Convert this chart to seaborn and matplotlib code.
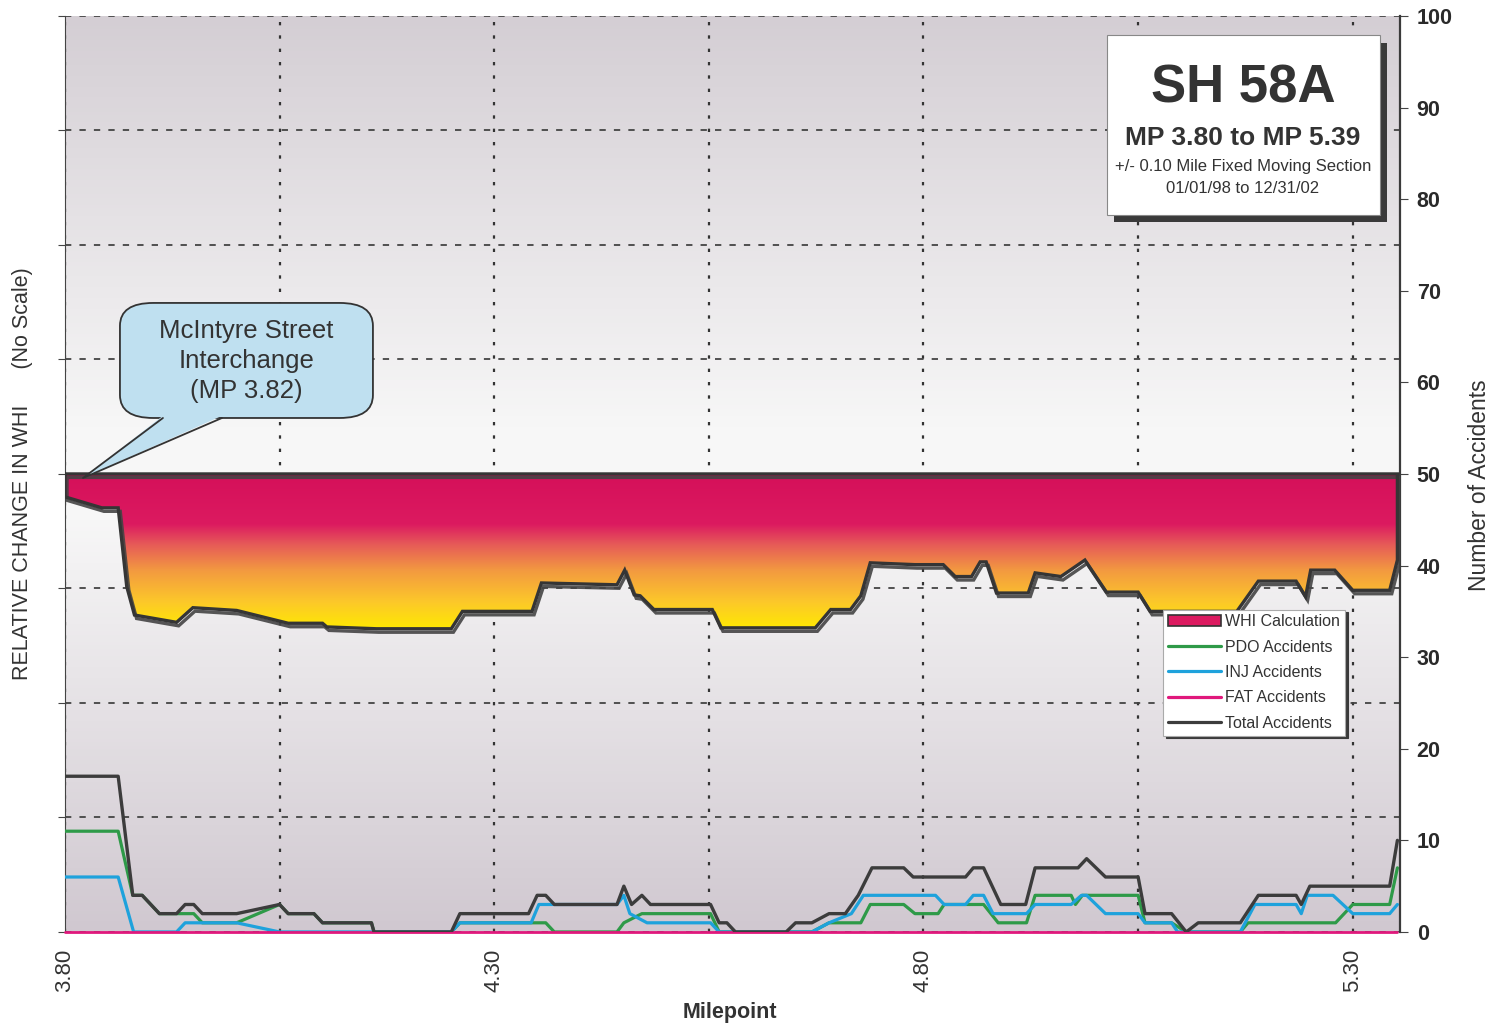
import numpy as np
import matplotlib
matplotlib.use("Agg")
import matplotlib.pyplot as plt
import matplotlib.patheffects as pe
from matplotlib.colors import LinearSegmentedColormap
from matplotlib.patches import Rectangle, FancyBboxPatch, Polygon, Patch
from matplotlib.lines import Line2D
import seaborn as sns

# Milepoint breakpoints and values
whi_mp = [3.80, 3.843, 3.862, 3.872, 3.881, 3.93, 3.949, 4.00, 4.06, 4.10,
          4.105, 4.163, 4.25, 4.263, 4.344, 4.355, 4.443, 4.452, 4.463, 4.47,
          4.486, 4.554, 4.564, 4.674, 4.692, 4.715, 4.727, 4.738, 4.79, 4.823,
          4.837, 4.856, 4.866, 4.873, 4.885, 4.922, 4.93, 4.96, 4.988, 5.013,
          5.05, 5.064, 5.165, 5.19, 5.234, 5.245, 5.251, 5.279, 5.30, 5.343, 5.352]
whi = [47.5, 46.3, 46.3, 37.7, 34.6, 33.8, 35.4, 35.1, 33.7, 33.7,
       33.3, 33.1, 33.1, 35.0, 35.0, 38.1, 37.9, 39.5, 36.8, 36.7,
       35.2, 35.2, 33.2, 33.2, 35.2, 35.2, 36.7, 40.3, 40.1, 40.1,
       38.8, 38.8, 40.4, 40.4, 37.0, 37.0, 39.2, 38.8, 40.6, 37.1,
       37.1, 35.0, 35.0, 38.3, 38.3, 36.6, 39.5, 39.5, 37.3, 37.3, 40.6]
whi_base = 50

pdo_mp = [3.80, 3.862, 3.879, 3.89, 3.91, 3.94, 3.95, 3.96, 4.00, 4.05,
          4.06, 4.09, 4.10, 4.157, 4.16, 4.25, 4.26, 4.34, 4.35, 4.36,
          4.37, 4.443, 4.451, 4.472, 4.552, 4.562, 4.67, 4.69, 4.727, 4.738,
          4.777, 4.79, 4.817, 4.824, 4.87, 4.887, 4.92, 4.93, 4.972, 4.977,
          4.985, 5.05, 5.058, 5.089, 5.106, 5.169, 5.178, 5.28, 5.30, 5.343, 5.352]
pdo = [11, 11, 4, 4, 2, 2, 2, 1, 1, 3,
       2, 2, 1, 1, 0, 0, 1, 1, 1, 1,
       0, 0, 1, 2, 2, 0, 0, 1, 1, 3,
       3, 2, 2, 3, 3, 1, 1, 4, 4, 3,
       4, 4, 1, 1, 0, 0, 1, 1, 3, 3, 7]

inj_mp = [3.80, 3.862, 3.88, 3.93, 3.94, 4.00, 4.05, 4.25, 4.26, 4.343,
          4.352, 4.37, 4.443, 4.451, 4.458, 4.478, 4.552, 4.562, 4.67, 4.69,
          4.716, 4.73, 4.814, 4.824, 4.849, 4.858, 4.87, 4.881, 4.92, 4.93,
          4.972, 4.984, 4.99, 5.012, 5.05, 5.058, 5.089, 5.096, 5.169, 5.186,
          5.234, 5.24, 5.247, 5.277, 5.30, 5.343, 5.352]
inj = [6, 6, 0, 0, 1, 1, 0, 0, 1, 1,
       3, 3, 3, 4, 2, 1, 1, 0, 0, 1,
       2, 4, 4, 3, 3, 4, 4, 2, 2, 3,
       3, 4, 4, 2, 2, 1, 1, 0, 0, 3,
       3, 2, 4, 4, 2, 2, 3]

fat_mp = [3.80, 5.352]
fat = [0, 0]

tot_mp = [3.80, 3.862, 3.879, 3.89, 3.91, 3.93, 3.94, 3.95, 3.96, 4.00,
          4.05, 4.06, 4.09, 4.10, 4.157, 4.16, 4.25, 4.26, 4.34, 4.35,
          4.36, 4.37, 4.443, 4.451, 4.46, 4.472, 4.482, 4.552, 4.562, 4.571,
          4.581, 4.64, 4.651, 4.67, 4.69, 4.709, 4.724, 4.74, 4.777, 4.788,
          4.849, 4.858, 4.87, 4.89, 4.919, 4.93, 4.98, 4.99, 5.012, 5.05,
          5.058, 5.089, 5.106, 5.12, 5.169, 5.19, 5.234, 5.24, 5.25, 5.343, 5.352]
tot = [17, 17, 4, 4, 2, 2, 3, 3, 2, 2,
       3, 2, 2, 1, 1, 0, 0, 2, 2, 4,
       4, 3, 3, 5, 3, 4, 3, 3, 1, 1,
       0, 0, 1, 1, 2, 2, 4, 7, 7, 6,
       6, 7, 7, 3, 3, 7, 7, 8, 6, 6,
       2, 2, 0, 1, 1, 4, 4, 3, 5, 5, 10]

xtick_labels = ["3.80", "4.30", "4.80", "5.30"]
legend_labels = ["WHI Calculation", "PDO Accidents", "INJ Accidents",
                 "FAT Accidents", "Total Accidents"]

sns.set_style("white")
plt.rcParams['font.family'] = ['Liberation Sans', 'DejaVu Sans']
txt = '#333333'

fig = plt.figure(figsize=(14.93, 10.29), dpi=100)
ax = fig.add_axes([0.0435, 0.0943, 0.8942, 0.8902])
ax2 = ax.twinx()

# background gradient (gray - white - gray)
bg = LinearSegmentedColormap.from_list(
    'bg', [(0, '#d0c8d0'), (0.45, '#f7f7f7'), (0.55, '#f7f7f7'), (1, '#d4ced4')])
ax.imshow(np.linspace(0, 1, 256)[:, None], cmap=bg, origin='lower',
          extent=(0, 1, 0, 1), transform=ax.transAxes, aspect='auto', zorder=0)

# left axis: no scale, 8 divisions
ax.set_xlim(3.80, 5.355)
ax.set_ylim(0, 8)
ax.set_yticks(range(9))
ax.set_yticklabels([])
ax.set_xticks([3.80, 4.30, 4.80, 5.30])
ax.set_xticks([4.05, 4.55, 5.05], minor=True)
ax.set_xticklabels(xtick_labels, rotation=90, fontsize=16, color=txt)
ax.tick_params(axis='x', which='both', length=0, pad=12)
ax.tick_params(axis='y', length=5, direction='out', color='#444')
ax.xaxis.grid(True, which='both', linestyle=(0, (1.5, 4.5)), linewidth=1.6, color='#333')
ax.yaxis.grid(True, linestyle=(0, (3.5, 4.5)), linewidth=1.3, color='#444')
for s in ['top', 'bottom', 'right']:
    ax.spines[s].set_visible(False)
ax.spines['left'].set_color('#444')
ax.set_ylabel("RELATIVE CHANGE IN WHI      (No Scale)", fontsize=15.5, color=txt)
ax.yaxis.set_label_coords(-0.024, 0.5)
ax.set_xlabel("Milepoint", fontsize=15.5, fontweight='bold', color=txt)
ax.xaxis.set_label_coords(0.498, -0.077)

# right axis: number of accidents
ax2.set_ylim(0, 100)
ax2.set_yticks(range(0, 101, 10))
ax2.tick_params(axis='y', labelsize=15.5, labelcolor='#2a2a2a', length=6, pad=6, color='#444')
for lab in ax2.get_yticklabels():
    lab.set_fontweight('bold')
for s in ['top', 'bottom', 'left']:
    ax2.spines[s].set_visible(False)
ax2.spines['right'].set_color('#3a3a3a')
ax2.spines['right'].set_linewidth(1.6)
ax2.set_ylabel("Number of Accidents", fontsize=16.5, color=txt)
ax2.yaxis.set_label_coords(1.051, 0.488)

# WHI band with vertical gradient
whi_cmap = LinearSegmentedColormap.from_list(
    'whi', [(0, '#ffea00'), (0.18, '#fcc82a'), (0.38, '#f39a40'),
            (0.55, '#e65a58'), (0.68, '#dc1a60'), (1, '#d5105a')])
band = ax2.fill_between(whi_mp, whi, whi_base, facecolor='none', edgecolor='none')
img = ax2.imshow(np.linspace(0, 1, 256)[:, None], cmap=whi_cmap, origin='lower',
                 extent=(3.80, 5.355, 33, 50), aspect='auto', zorder=2)
img.set_clip_path(band.get_paths()[0], ax2.transData)
outline = band.get_paths()[0].vertices
ax2.plot(outline[:, 0], outline[:, 1], color='#353535', lw=2.4, zorder=3,
         solid_joinstyle='miter',
         path_effects=[pe.SimpleLineShadow(offset=(1.5, -2.5), shadow_color='#444', alpha=0.9),
                       pe.Normal()])

# accident lines
kw = dict(ax=ax2, estimator=None, sort=False, legend=False)
sns.lineplot(x=pdo_mp, y=pdo, color='#2e9a48', lw=2.3, **kw)
sns.lineplot(x=inj_mp, y=inj, color='#1ea2dc', lw=2.3, **kw)
sns.lineplot(x=fat_mp, y=fat, color='#e0187c', lw=2.0, clip_on=False, **kw)
sns.lineplot(x=tot_mp, y=tot, color='#3c3c3c', lw=2.4, **kw)
ax2.set_xlim(3.80, 5.355)
ax2.set_ylim(0, 100)

# title box
ax2.add_patch(Rectangle((0.786, 0.775), 0.2045, 0.196, transform=ax2.transAxes,
                        facecolor='#3a3a3a', edgecolor='none', zorder=8))
ax2.add_patch(Rectangle((0.7805, 0.7828), 0.2045, 0.196, transform=ax2.transAxes,
                        facecolor='white', edgecolor='#888', lw=0.8, zorder=9))
ax2.text(0.8824, 0.921, "SH 58A", transform=ax2.transAxes, ha='center', va='center',
         fontsize=38, fontweight='bold', color=txt, zorder=10)
ax2.text(0.8824, 0.867, "MP 3.80 to MP 5.39", transform=ax2.transAxes, ha='center',
         va='center', fontsize=19, fontweight='bold', color=txt, zorder=10)
ax2.text(0.8824, 0.836, "+/- 0.10 Mile Fixed Moving Section", transform=ax2.transAxes,
         ha='center', va='center', fontsize=12, color=txt, zorder=10)
ax2.text(0.8824, 0.812, "01/01/98 to 12/31/02", transform=ax2.transAxes,
         ha='center', va='center', fontsize=12, color=txt, zorder=10)

# callout
blue_fc = '#bfe0f0'
ax2.add_patch(FancyBboxPatch((0.0412, 0.5611), 0.1895, 0.1256, transform=ax2.transAxes,
                             boxstyle='round,pad=0,rounding_size=0.025',
                             facecolor=blue_fc, edgecolor='#333', lw=1.3, zorder=10))
tail = [(0.0734, 0.5611), (0.0135, 0.4956), (0.1176, 0.5611)]
ax2.add_patch(Polygon([(0.0734, 0.5635), (0.0135, 0.4956), (0.1176, 0.5635)],
                      closed=True, transform=ax2.transAxes, facecolor=blue_fc,
                      edgecolor='none', zorder=11))
ax2.plot([p[0] for p in tail], [p[1] for p in tail], transform=ax2.transAxes,
         color='#333', lw=1.3, zorder=12)
ax2.text(0.136, 0.6234, "McIntyre Street\nInterchange\n(MP 3.82)", transform=ax2.transAxes,
         ha='center', va='center', fontsize=18.5, color=txt, linespacing=1.3, zorder=12)

# legend
handles = [Patch(facecolor='#dc1a60', edgecolor='#333', lw=1.2),
           Line2D([], [], color='#2e9a48', lw=2.3),
           Line2D([], [], color='#1ea2dc', lw=2.3),
           Line2D([], [], color='#e0187c', lw=2.3),
           Line2D([], [], color='#3c3c3c', lw=2.3)]
leg = ax2.legend(handles, legend_labels, loc='upper left', bbox_to_anchor=(0.8225, 0.352),
                 fontsize=11.5, frameon=True, fancybox=False, edgecolor='#aaa',
                 shadow={'color': '#3a3a3a', 'alpha': 1}, borderaxespad=0,
                 borderpad=0.3, handlelength=3.3, handletextpad=0.3, labelspacing=0.65,
                 labelcolor=txt)
leg.get_frame().set_linewidth(0.8)
leg.set_zorder(13)

fig.savefig("out.png", dpi=100, facecolor='white')
